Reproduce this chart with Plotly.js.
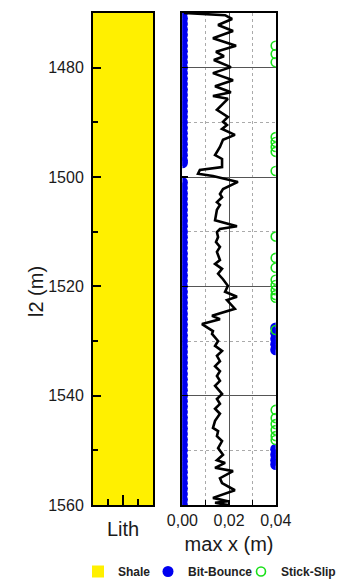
<!DOCTYPE html>
<html>
<head>
<meta charset="utf-8">
<script src="https://cdn.plot.ly/plotly-3.0.1.min.js"></script>
<style>html,body{margin:0;padding:0;background:#fff;}#chart{width:339px;height:582px;}</style>
</head>
<body>
<div id="chart"></div>
<script>
// ---- data ----
const lithTop = [1470];
const lithBottom = [1560];
const lithName = ['Shale'];

const depth = [1470.0,1470.4,1471.1,1472.2,1473.3,1474.6,1476.0,1477.1,1477.9,1478.6,1479.9,1481.0,1482.3,1483.4,1484.5,1485.2,1485.7,1487.7,1489.0,1489.9,1490.5,1491.2,1492.3,1493.2,1494.5,1496.0,1496.7,1498.2,1498.7,1499.4,1499.8,1500.4,1500.9,1502.2,1503.1,1503.7,1504.6,1505.1,1506.0,1507.9,1509.0,1509.5,1510.1,1511.0,1511.9,1512.8,1513.7,1515.2,1515.9,1516.8,1517.7,1518.7,1519.9,1521.0,1521.9,1522.5,1524.1,1525.4,1526.0,1526.9,1528.2,1528.7,1530.0,1530.9,1531.8,1532.7,1533.7,1534.6,1535.5,1536.4,1537.3,1538.2,1539.7,1540.6,1541.5,1542.4,1543.3,1544.6,1545.9,1546.5,1547.4,1548.3,1549.6,1550.8,1551.8,1552.3,1553.2,1553.8,1555.1,1556.0,1557.3,1558.7,1559.3,1559.6,1560.0];
const maxX = [0.0007,0.0183,0.0213,0.0153,0.0217,0.0131,0.0230,0.0144,0.0178,0.0135,0.0208,0.0131,0.0217,0.0140,0.0208,0.0131,0.0195,0.0148,0.0195,0.0174,0.0191,0.0170,0.0225,0.0174,0.0161,0.0140,0.0170,0.0170,0.0075,0.0067,0.0131,0.0191,0.0238,0.0174,0.0161,0.0170,0.0148,0.0161,0.0148,0.0140,0.0234,0.0161,0.0148,0.0153,0.0144,0.0161,0.0148,0.0161,0.0140,0.0170,0.0153,0.0174,0.0195,0.0183,0.0234,0.0191,0.0225,0.0127,0.0161,0.0084,0.0131,0.0127,0.0153,0.0140,0.0170,0.0148,0.0161,0.0140,0.0161,0.0148,0.0161,0.0140,0.0170,0.0148,0.0161,0.0140,0.0161,0.0140,0.0131,0.0153,0.0148,0.0170,0.0153,0.0174,0.0148,0.0183,0.0140,0.0217,0.0161,0.0170,0.0225,0.0131,0.0195,0.0140,0.0195];

// Bit-bounce indicator: x = 0 (none) or 0.04 (detected)
const bitBounceDepth = [1470,1471,1472,1473,1474,1475,1476,1477,1478,1479,1480,1481,1482,1483,1484,1485,1486,1487,1488,1489,1490,1491,1492,1493,1494,1495,1496,1497,1497.4,
  1501,1502,1503,1504,1505,1506,1507,1508,1509,1510,1511,1512,1513,1514,1515,1516,1517,1518,1519,1520,1521,1522,1523,1524,1525,1526,1527,1528,1529,1530,
  1531,1532,1533,1534,1535,1536,1537,1538,1539,1540,1541,1542,1543,1544,1545,1546,1547,1548,1549,1550,1551,1552,1553,1554,1555,1556,1557,1558,1559,1560,
  1527.6,1528.6,1529.6,1530.6,1531.6,1549.8,1550.8,1551.8,1552.6];
const bitBounceX = [0,0,0,0,0,0,0,0,0,0,0,0,0,0,0,0,0,0,0,0,0,0,0,0,0,0,0,0,0,
  0,0,0,0,0,0,0,0,0,0,0,0,0,0,0,0,0,0,0,0,0,0,0,0,0,0,0,0,0,0,
  0,0,0,0,0,0,0,0,0,0,0,0,0,0,0,0,0,0,0,0,0,0,0,0,0,0,0,0,0,0,
  0.04,0.04,0.04,0.04,0.04,0.04,0.04,0.04,0.04];

// Stick-slip detected depths (plotted at x = 0.04)
const stickSlipDepth = [1476.0,1477.5,1479.0,1492.7,1493.6,1494.5,1495.4,1498.9,1510.9,1514.8,1516.6,1518.8,1519.75,1520.7,1521.6,1522.1,1528.0,1542.6,1544.1,1545.2,1546.3,1547.4,1548.1];
const stickSlipX = [0.04,0.04,0.04,0.04,0.04,0.04,0.04,0.04,0.04,0.04,0.04,0.04,0.04,0.04,0.04,0.04,0.04,0.04,0.04,0.04,0.04,0.04,0.04];

const yTickVals = [1480,1500,1520,1540,1560];
const xTickVals = [0,0.02,0.04];
const xTickText = ['0,00','0,02','0,04'];

// ---- chart ----
const FONT = 'Liberation Sans, Arial, sans-serif';
const LFONT = {family: 'Liberation Sans, Arial, sans-serif', size: 12, color: '#222', weight: 'bold'};

const traces = [
  {type: 'bar', x: [0.5], y: [lithBottom[0] - lithTop[0]], base: [lithTop[0]], width: [1],
   name: lithName[0], marker: {color: '#FFF000', line: {width: 0}}, xaxis: 'x', yaxis: 'y',
   legend: 'legend', showlegend: true},
  {type: 'scatter', mode: 'markers', x: bitBounceX, y: bitBounceDepth, name: 'Bit-Bounce', cliponaxis: true,
   marker: {color: '#0000F0', size: 11, line: {width: 0}}, xaxis: 'x2', yaxis: 'y2', legend: 'legend2'},
  {type: 'scatter', mode: 'markers', x: stickSlipX, y: stickSlipDepth, name: 'Stick-Slip', cliponaxis: true,
   marker: {symbol: 'circle-open', color: '#18E018', size: 9, line: {width: 1.6, color: '#18E018'}},
   xaxis: 'x2', yaxis: 'y2', legend: 'legend3'},
  {type: 'scatter', mode: 'lines', x: maxX, y: depth, name: 'max x', showlegend: false,
   line: {color: '#000', width: 2.6}, xaxis: 'x2', yaxis: 'y2'}
];

const common = {showline: true, linewidth: 2, linecolor: '#000', mirror: true, zeroline: false};
const LEGY = -(586 - 505) / 492;

const layout = {
  width: 339, height: 582,
  margin: {l: 0, r: 0, t: 13, b: 77, pad: 0, autoexpand: false},
  paper_bgcolor: '#fff', plot_bgcolor: 'rgba(0,0,0,0)',
  font: {family: FONT, size: 16, color: '#1a1a1a'},
  bargap: 0,
  xaxis: Object.assign({}, common, {
    domain: [93/339, 153/339], anchor: 'y', range: [0, 1], showgrid: false,
    tickvals: [0.5], showticklabels: false, ticks: 'inside', ticklen: 10, tickwidth: 2, tickcolor: '#000',
    minor: {tickvals: [0.25, 0.75], ticks: 'inside', ticklen: 6, tickwidth: 2, tickcolor: '#000'},
    title: {text: 'Lith', font: {size: 20, family: FONT, color: '#1a1a1a'}, standoff: 16}
  }),
  yaxis: Object.assign({}, common, {
    domain: [0, 1], anchor: 'x', range: [1560, 1470], showgrid: false,
    tickvals: yTickVals, ticks: 'inside', ticklen: 8, tickwidth: 2, tickcolor: '#000',
    minor: {dtick: 10, tick0: 0, ticks: 'inside', ticklen: 5, tickwidth: 2, tickcolor: '#000'},
    tickfont: {size: 16, family: FONT, color: '#1a1a1a'}, ticklabelstandoff: 4
  }),
  xaxis2: Object.assign({}, common, {
    domain: [182.4/339, 275.7/339], anchor: 'y2', range: [0, 0.04],
    tickvals: xTickVals, ticktext: xTickText, ticks: 'inside', ticklen: 5, tickwidth: 1.5, tickcolor: '#000',
    showgrid: true, gridcolor: '#555', gridwidth: 1,
    minor: {dtick: 0.01, tick0: 0, ticks: 'inside', ticklen: 5, tickwidth: 1.5, tickcolor: '#000',
            showgrid: true, gridcolor: '#aaa', griddash: 'dot', gridwidth: 1},
    tickfont: {size: 16, family: FONT, color: '#1a1a1a'},
    title: {text: 'max x (m)', font: {size: 20, family: FONT, color: '#1a1a1a'}, standoff: 9}
  }),
  yaxis2: Object.assign({}, common, {
    domain: [0, 1], anchor: 'x2', range: [1560, 1470], showticklabels: false,
    tickvals: yTickVals, ticks: 'inside', ticklen: 6, tickwidth: 1.5, tickcolor: '#000',
    showgrid: true, gridcolor: '#555', gridwidth: 1,
    minor: {dtick: 10, tick0: 0, showgrid: true, gridcolor: '#aaa', griddash: 'dot', gridwidth: 1}
  }),
  annotations: [
    {text: 'l2 (m)', textangle: -90, xref: 'paper', yref: 'paper', x: 36/339, y: (505 - 292)/492,
     xanchor: 'center', yanchor: 'middle', showarrow: false, font: {size: 20, family: FONT, color: '#1a1a1a'}}
  ],
  legend:  {x: 78/339, xanchor: 'left', y: LEGY, yanchor: 'bottom', orientation: 'h', font: LFONT, bgcolor: 'rgba(0,0,0,0)', borderwidth: 0},
  legend2: {x: 148/339, xanchor: 'left', y: LEGY, yanchor: 'bottom', orientation: 'h', font: LFONT, bgcolor: 'rgba(0,0,0,0)', borderwidth: 0},
  legend3: {x: 241/339, xanchor: 'left', y: LEGY, yanchor: 'bottom', orientation: 'h', font: LFONT, bgcolor: 'rgba(0,0,0,0)', borderwidth: 0},
  showlegend: true
};

Plotly.newPlot('chart', traces, layout, {staticPlot: true, displayModeBar: false});
</script>
</body>
</html>
